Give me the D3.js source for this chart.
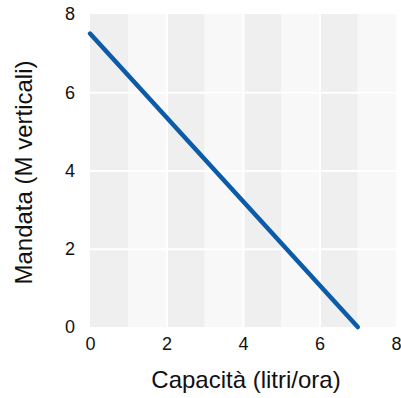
<!DOCTYPE html>
<html>
<head>
<meta charset="utf-8">
<script src="https://cdn.jsdelivr.net/npm/d3@7"></script>
<style>
  html, body { margin: 0; padding: 0; background: #fff; }
  svg { display: block; font-family: "Liberation Sans", Arial, sans-serif; }
</style>
</head>
<body>
<div id="chart"></div>
<script>
// Line data: capacity vs vertical head
const capacity = [0, 7];
const head = [7.5, 0];
const xTicks = [0, 2, 4, 6, 8];
const yTicks = [0, 2, 4, 6, 8];
const bands = [0, 1, 2, 3, 4, 5, 6, 7];

const W = 401, H = 398;
const margin = { top: 14, right: 5, bottom: 71, left: 90 };
const w = W - margin.left - margin.right;
const h = H - margin.top - margin.bottom;

const svg = d3.select("#chart").append("svg")
  .attr("width", W).attr("height", H);

const g = svg.append("g").attr("transform", `translate(${margin.left},${margin.top})`);

const x = d3.scaleLinear().domain([0, 8]).range([0, w]);
const y = d3.scaleLinear().domain([0, 8]).range([h, 0]);

// alternating column bands
g.selectAll("rect.band").data(bands).join("rect")
  .attr("class", "band")
  .attr("x", d => x(d)).attr("y", 0)
  .attr("width", x(1) - x(0)).attr("height", h)
  .attr("fill", d => d % 2 === 0 ? "#efefef" : "#f8f8f8");

// white gridlines
g.append("g")
  .call(d3.axisLeft(y).tickValues([2, 4, 6]).tickSize(-w).tickFormat(""))
  .call(a => a.select(".domain").remove())
  .selectAll("line").attr("stroke", "#fff").attr("stroke-width", 2);
g.append("g").attr("transform", `translate(0,${h})`)
  .call(d3.axisBottom(x).tickValues([2, 4, 6]).tickSize(-h).tickFormat(""))
  .call(a => a.select(".domain").remove())
  .selectAll("line").attr("stroke", "#fff").attr("stroke-width", 2);

// axes labels
g.append("g").attr("transform", `translate(0,${h})`)
  .call(d3.axisBottom(x).tickValues(xTicks).tickSize(0).tickPadding(10))
  .call(a => a.select(".domain").remove())
  .selectAll("text").attr("font-size", 18).attr("fill", "#111").attr("font-family", "'Liberation Sans', Arial, sans-serif");
g.append("g")
  .call(d3.axisLeft(y).tickValues(yTicks).tickSize(0).tickPadding(15))
  .call(a => a.select(".domain").remove())
  .selectAll("text").attr("font-size", 18).attr("fill", "#111").attr("font-family", "'Liberation Sans', Arial, sans-serif");

// line
const line = d3.line().x(d => x(d[0])).y(d => y(d[1]));
g.append("path")
  .datum(d3.zip(capacity, head))
  .attr("fill", "none")
  .attr("stroke", "#0b5ba8")
  .attr("stroke-width", 4.5)
  .attr("stroke-linecap", "round")
  .attr("d", line);

// titles
svg.append("text")
  .attr("x", margin.left + w / 2 + 3).attr("y", 388)
  .attr("text-anchor", "middle")
  .attr("font-size", 24).attr("fill", "#111")
  .text("Capacità (litri/ora)");
svg.append("text")
  .attr("transform", `translate(32,${margin.top + h / 2 + 2}) rotate(-90)`)
  .attr("text-anchor", "middle")
  .attr("font-size", 24).attr("fill", "#111")
  .text("Mandata (M verticali)");
</script>
</body>
</html>
